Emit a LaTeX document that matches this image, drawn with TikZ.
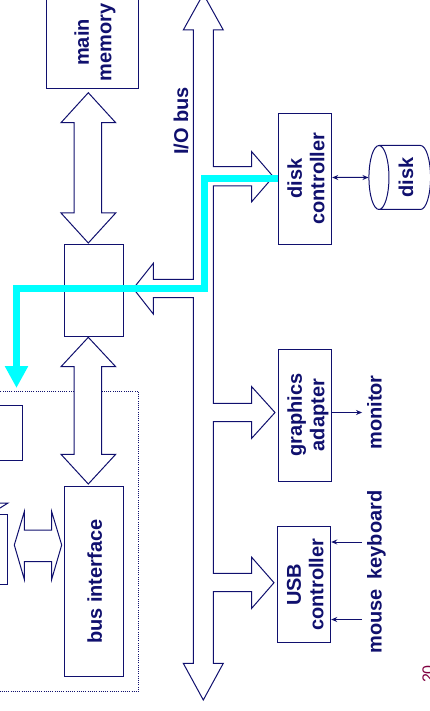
\documentclass[tikz,border=0pt]{standalone}
\usepackage{fontspec}
\setmainfont{Liberation Sans}
\usetikzlibrary{arrows.meta,shapes.geometric}
\definecolor{navy}{RGB}{16,16,110}
\definecolor{readcyan}{RGB}{0,255,255}
\definecolor{slidered}{RGB}{128,0,64}
\newcommand\vlabel[1]{\rotatebox{90}{\raisebox{-3.5pt}[\height][\depth]{\begin{tabular}{@{}c@{}}#1\end{tabular}}}}
\tikzset{
  hwbox/.style={draw=navy, line width=1pt, inner sep=0pt, text=navy},
  devlabel/.style={text=navy, inner sep=0pt},
  blockarrow/.style={draw=navy, line width=1pt, fill=white},
  link/.style={draw=navy, line width=1pt},
  readpath/.style={draw=readcyan, line width=7pt, -{Triangle[length=22pt,width=22pt]}},
  chip/.style={draw=navy, line width=0.8pt, dash pattern=on 1pt off 1.2pt}
}
\begin{document}
\begin{tikzpicture}[x=1pt,y=-1pt,font=\bfseries\fontsize{20}{22.5}\selectfont,
    >={Stealth[length=6pt,width=5pt]}]
  \useasboundingbox (0,0) rectangle (429,711);
  % cpu chip
  \draw[chip] (-10,391) rectangle (138.3,691.7);
  \node[hwbox, minimum width=62, minimum height=54.7] (regfile) at (-8.7,433.3) {};
  \node[hwbox, minimum width=60, minimum height=69.7] (alu) at (-23,549.2) {};
  \draw[link] (-40,503) -- (8,503) -- (-9.6,514);
  \node[hwbox, minimum width=59, minimum height=190] (busif) at (93.8,581.7) {\vlabel{bus interface}};
  \node[hwbox, minimum width=59, minimum height=92.4] (bridge) at (93.8,290.5) {};
  \node[hwbox, minimum width=92, minimum height=93] (mem) at (92,42.5) {\vlabel{main\\memory}};
  % devices
  \node[hwbox, minimum width=53.4, minimum height=130.7] (diskctl) at (305,178.7) {\vlabel{disk\\controller}};
  \node[hwbox, minimum width=53.4, minimum height=132] (adapter) at (305,415) {\vlabel{graphics\\adapter}};
  \node[hwbox, minimum width=53.4, minimum height=116] (usb) at (304,584.7) {\vlabel{USB\\controller}};
  \node[hwbox, cylinder, shape border rotate=180, aspect=0.5,
        minimum width=64, minimum height=61.6] (disk) at (405,177.5) {\vlabel{disk}};
  \node[devlabel] (iobus) at (180,121) {\vlabel{I/O bus}};
  \node[devlabel] (monitor) at (373.5,412.5) {\vlabel{monitor}};
  \node[devlabel] (keyboard) at (373.5,535) {\vlabel{keyboard}};
  \node[devlabel] (mouse) at (373.5,621.5) {\vlabel{mouse}};
  \node[text=slidered, font=\mdseries\fontsize{16}{18}\selectfont] (pagenum) at (428,674) {\rotatebox{90}{20}};
  % buses
  \draw[blockarrow] (88.3,92.7) -- (115.7,122.7) -- (101.7,122.7) -- (101.7,213) -- (115.7,213)
    -- (88.3,243) -- (61,213) -- (74,213) -- (74,122.7) -- (61,122.7) -- cycle;
  \draw[blockarrow] (88.3,337.3) -- (115.7,366.7) -- (101.7,366.7) -- (101.7,454.3) -- (115.7,454.3)
    -- (88.3,484) -- (61,454.3) -- (74,454.3) -- (74,366.7) -- (61,366.7) -- cycle;
  \draw[blockarrow] (14.3,545) -- (24.3,511.7) -- (24.3,530) -- (51.7,530) -- (51.7,511.7)
    -- (61.7,545) -- (51.7,579.3) -- (51.7,561.7) -- (24.3,561.7) -- (24.3,579.3) -- cycle;
  \draw[blockarrow] (203.3,-6) -- (223.3,30) -- (213.3,30)
    -- (213.3,166.7) -- (251.7,166.7) -- (251.7,151.7) -- (273.3,176.7) -- (251.7,201.7) -- (251.7,186) -- (213.3,186)
    -- (213.3,403.3) -- (251.7,403.3) -- (251.7,386.7) -- (275,412.5) -- (251.7,438.3) -- (251.7,421.7) -- (213.3,421.7)
    -- (213.3,573.3) -- (251.7,573.3) -- (251.7,557.3) -- (274,582.7) -- (251.7,608.3) -- (251.7,591.7) -- (213.3,591.7)
    -- (213.3,663.3) -- (223.3,663.3) -- (203.3,700) -- (183.3,663.3) -- (193.3,663.3)
    -- (193.3,297.7) -- (153.3,297.7) -- (153.3,314) -- (133.3,288.5) -- (153.3,263.3) -- (153.3,279.3) -- (193.3,279.3)
    -- (193.3,30) -- (183.3,30) -- cycle;
  % device links
  \draw[link,<->] (diskctl.east |- disk.center) -- (disk);
  \draw[link,->] (adapter.east |- monitor.center) -- (monitor);
  \draw[link,->] ([yshift=-7pt]keyboard.west) -- ([yshift=-7pt]keyboard.west -| usb.east);
  \draw[link,->] ([yshift=2pt]mouse.west) -- ([yshift=2pt]mouse.west -| usb.east);
  % disk read
  \coordinate (turn) at (204,288);
  \coordinate (cpuin) at (16.5,388);
  \draw[readpath] (diskctl.west) -| (turn) -| (cpuin);
\end{tikzpicture}
\end{document}
